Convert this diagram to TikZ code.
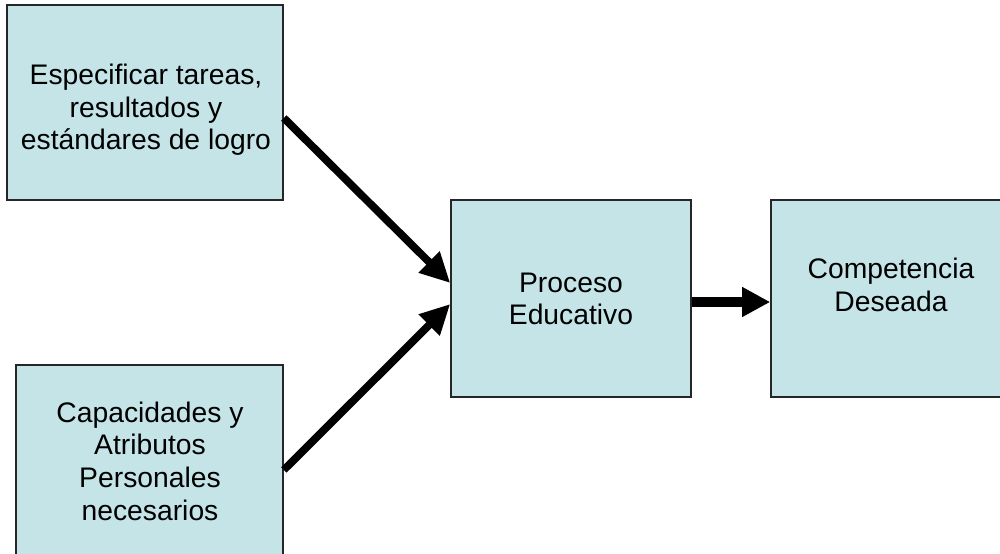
\documentclass[tikz,border=0pt]{standalone}
\usepackage{fontspec}
\setmainfont{Liberation Sans}
\usetikzlibrary{arrows.meta}
\definecolor{boxfill}{RGB}{197,228,232}
\tikzset{
  box/.style={draw=black!85, line width=0.9pt, fill=boxfill, inner sep=0pt},
  label/.style={align=center, inner sep=0pt, font=\fontsize{16.1}{18.6}\selectfont},
  thickarrow/.style={line width=4.4pt, -{Triangle[length=17pt, width=16pt]}},
  widearrow/.style={line width=6.2pt, -{Triangle[length=16pt, width=16pt]}}
}

\begin{document}
\begin{tikzpicture}[x=0.02cm, y=-0.02cm]
    \useasboundingbox (0,0) rectangle (1000,554);
    \clip (0,0) rectangle (1000,554);
    % boxes
    \node[box, minimum width=5.52cm, minimum height=3.9cm] (tareas) at (145,102.5) {};
    \node[box, minimum width=5.34cm, minimum height=4.1cm] (capac) at (149.5,467.5) {};
    \node[box, minimum width=4.8cm, minimum height=3.94cm] (proceso) at (571,298.5) {};
    \node[box, minimum width=4.98cm, minimum height=3.94cm] (compet) at (895.5,298.5) {};
    % texts
    \node[label] (tareasT) at (146,110) {Especificar tareas,\\ resultados y\\ estándares de logro};
    \node[label] (capacT) at (150,461) {Capacidades y\\ Atributos\hspace*{0.28em}\\ Personales\\ necesarios};
    \node[label] (procesoT) at (571,299) {Proceso\\ Educativo};
    \node[label] (competT) at (891,285) {Competencia\\ Deseada};
    % arrows
    \draw[thickarrow] ([yshift=-0.31cm]tareas.east) -- ([yshift=0.31cm]proceso.west);
    \draw[thickarrow] ([yshift=-0.05cm]capac.east) -- ([yshift=-0.11cm]proceso.west);
    \draw[widearrow] ([yshift=-0.07cm]proceso.east) -- ([yshift=-0.07cm]compet.west);
  \end{tikzpicture}
\end{document}
